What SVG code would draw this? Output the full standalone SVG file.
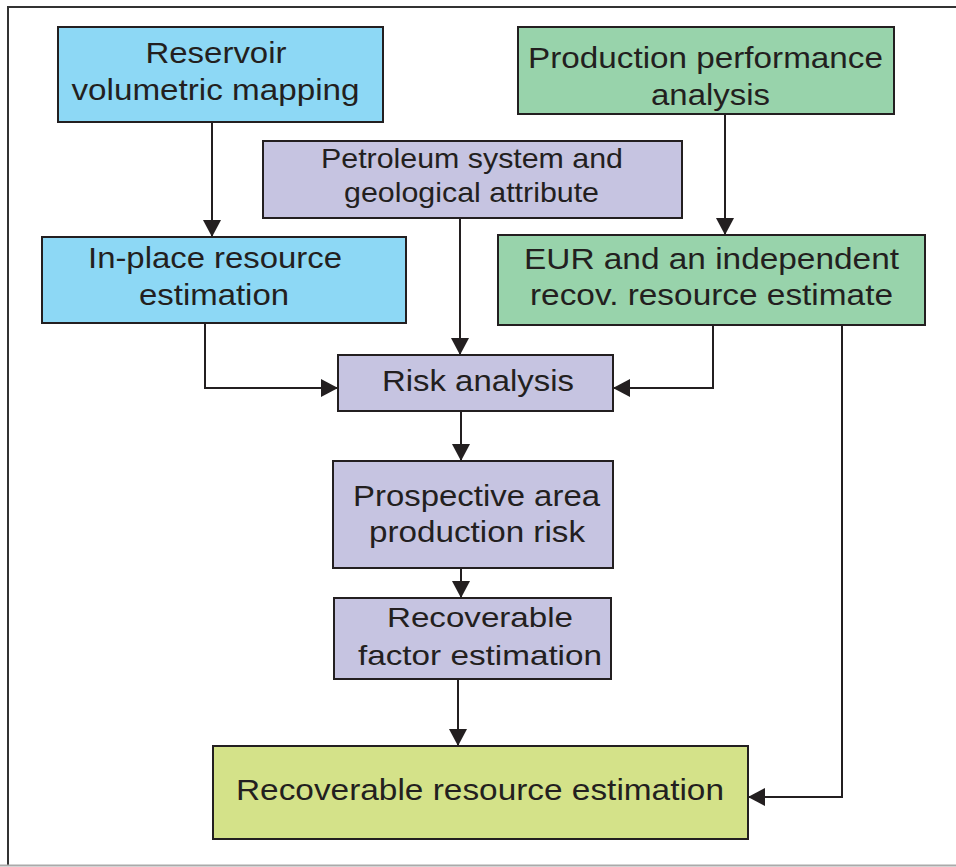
<svg xmlns="http://www.w3.org/2000/svg" width="956" height="867" viewBox="0 0 956 867">
<defs>
<style>
.box{stroke:#231f20;stroke-width:2}
.blue{fill:#8dd8f5}
.lav{fill:#c6c4e1}
.green{fill:#98d3ab}
.yel{fill:#d4e289}
.t{font-family:"Liberation Sans",Arial,sans-serif;fill:#231f20;text-anchor:middle}
.c{fill:none;stroke:#231f20;stroke-width:2}
</style>
<marker id="arr" markerUnits="userSpaceOnUse" markerWidth="18" markerHeight="18" refX="17" refY="9" orient="auto">
<path d="M0,0 L17,9 L0,18 z" fill="#231f20"/>
</marker>
</defs>
<rect width="956" height="867" fill="#fff"/>
<path d="M8,866 V7 H956" fill="none" stroke="#333" stroke-width="2"/>
<path d="M0,865.5 H956" fill="none" stroke="#aaa" stroke-width="2"/>

<g id="connectors">
<path class="c" d="M212,122 V237" marker-end="url(#arr)"/>
<path class="c" d="M460,218 V355" marker-end="url(#arr)"/>
<path class="c" d="M725,114 V235" marker-end="url(#arr)"/>
<path class="c" d="M205,323 V388 H338" marker-end="url(#arr)"/>
<path class="c" d="M713,325 V388 H613" marker-end="url(#arr)"/>
<path class="c" d="M461,411 V461" marker-end="url(#arr)"/>
<path class="c" d="M461,568 V598" marker-end="url(#arr)"/>
<path class="c" d="M458,679 V746" marker-end="url(#arr)"/>
<path class="c" d="M842,325 V797 H748" marker-end="url(#arr)"/>
</g>

<g id="reservoir">
<rect class="box blue" x="58" y="27" width="325" height="95"/>
<text class="t" font-size="30" x="216" y="63" textLength="141" lengthAdjust="spacingAndGlyphs">Reservoir</text>
<text class="t" font-size="30" x="215.5" y="100" textLength="288" lengthAdjust="spacingAndGlyphs">volumetric mapping</text>
</g>

<g id="petroleum">
<rect class="box lav" x="263" y="141" width="419" height="77"/>
<text class="t" font-size="28" x="472" y="168" textLength="302" lengthAdjust="spacingAndGlyphs">Petroleum system and</text>
<text class="t" font-size="28" x="471.5" y="202" textLength="255" lengthAdjust="spacingAndGlyphs">geological attribute</text>
</g>

<g id="inplace">
<rect class="box blue" x="42" y="237" width="364" height="86"/>
<text class="t" font-size="30" x="215" y="268" textLength="254" lengthAdjust="spacingAndGlyphs">In-place resource</text>
<text class="t" font-size="30" x="214" y="305" textLength="150" lengthAdjust="spacingAndGlyphs">estimation</text>
</g>

<g id="production">
<rect class="box green" x="518" y="27" width="376" height="87"/>
<text class="t" font-size="30" x="705.5" y="68" textLength="355" lengthAdjust="spacingAndGlyphs">Production performance</text>
<text class="t" font-size="30" x="710.5" y="105" textLength="119" lengthAdjust="spacingAndGlyphs">analysis</text>
</g>

<g id="eur">
<rect class="box green" x="498" y="235" width="427" height="90"/>
<text class="t" font-size="30" x="711.5" y="269" textLength="375" lengthAdjust="spacingAndGlyphs">EUR and an independent</text>
<text class="t" font-size="30" x="711.5" y="305" textLength="363" lengthAdjust="spacingAndGlyphs">recov. resource estimate</text>
</g>

<g id="risk">
<rect class="box lav" x="338" y="355" width="275" height="56"/>
<text class="t" font-size="29" x="478" y="391" textLength="192" lengthAdjust="spacingAndGlyphs">Risk analysis</text>
</g>

<g id="prospective">
<rect class="box lav" stroke-width="3" x="333" y="461" width="280" height="107"/>
<text class="t" font-size="29" x="476.5" y="506" textLength="247" lengthAdjust="spacingAndGlyphs">Prospective area</text>
<text class="t" font-size="29" x="477" y="542" textLength="216" lengthAdjust="spacingAndGlyphs">production risk</text>
</g>

<g id="factor">
<rect class="box lav" x="334" y="598" width="277" height="81"/>
<text class="t" font-size="28" x="480" y="627" textLength="186" lengthAdjust="spacingAndGlyphs">Recoverable</text>
<text class="t" font-size="28" x="480" y="665" textLength="244" lengthAdjust="spacingAndGlyphs">factor estimation</text>
</g>

<g id="resource">
<rect class="box yel" x="213" y="746" width="535" height="93"/>
<text class="t" font-size="30" x="480" y="800" textLength="488" lengthAdjust="spacingAndGlyphs">Recoverable resource estimation</text>
</g>
</svg>
